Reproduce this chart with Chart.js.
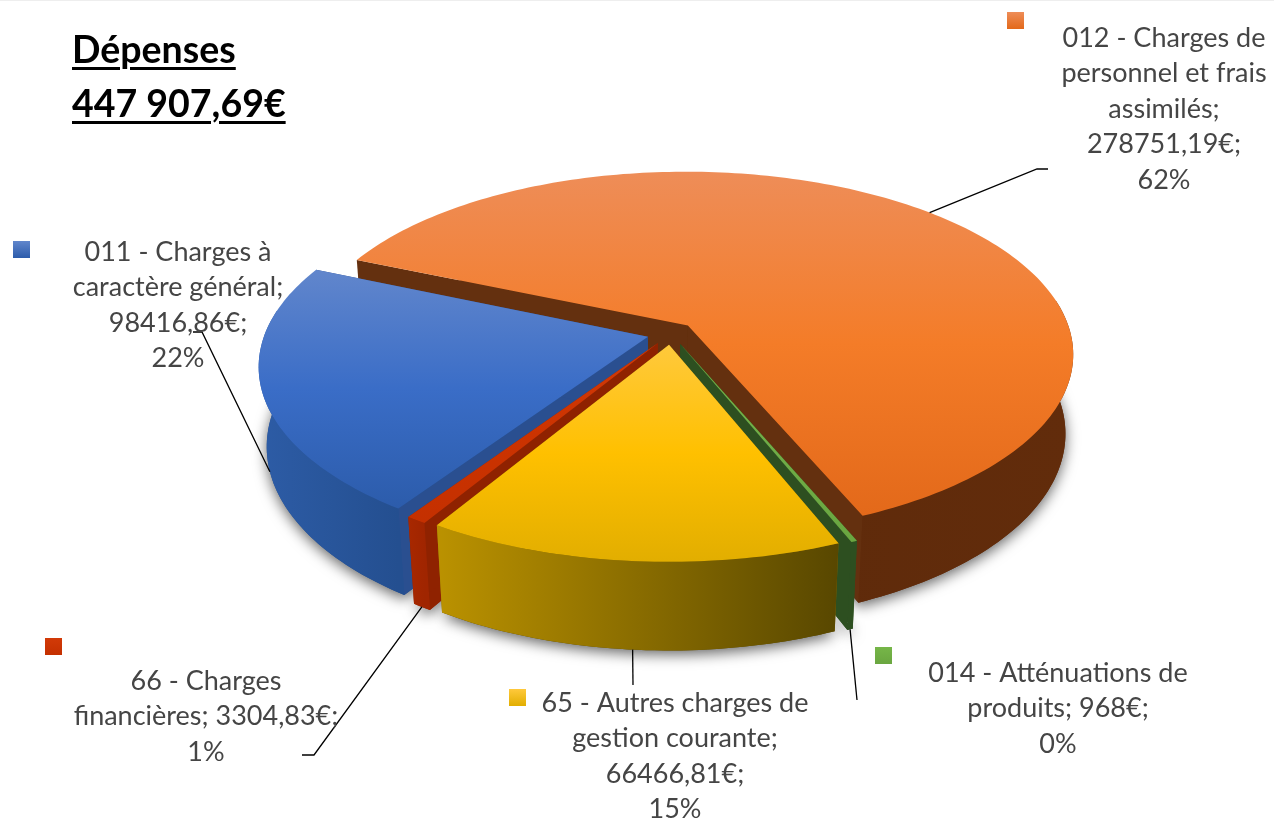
<!DOCTYPE html>
<html lang="fr">
<head>
<meta charset="utf-8">
<title>Dépenses</title>
<script src="https://cdn.jsdelivr.net/npm/chart.js@4"></script>
<style>
  html, body { margin: 0; padding: 0; background: #fff; }
  #wrap { position: relative; width: 1274px; height: 821px; overflow: hidden; }
  #topline { position: absolute; left: 0; top: 0; width: 100%; height: 1px; background: #eeeeee; }
  #title {
    position: absolute; left: 72px; top: 22px;
    font: bold 37.5px/54px Lato, sans-serif; color: #000;
    text-decoration: underline; text-decoration-thickness: 3px; text-underline-offset: 4px;
  }
  canvas { display: block; }
</style>
</head>
<body>
<div id="wrap">
  <canvas id="pie" width="1274" height="821"></canvas>
  <div id="topline"></div>
  <div id="title">Dépenses<br>447 907,69€</div>
</div>
<script>
// Data
const categories = [
  '011 - Charges à caractère général',
  '012 - Charges de personnel et frais assimilés',
  '014 - Atténuations de produits',
  '65 - Autres charges de gestion courante',
  '66 - Charges financières',
];
const amounts = [98416.86, 278751.19, 968, 66466.81, 3304.83];

// How each data label wraps in the picture
const labelLines = [
  ['011 - Charges à', 'caractère général;', '98416,86€;', '22%'],
  ['012 - Charges de', 'personnel et frais', 'assimilés;', '278751,19€;', '62%'],
  ['014 - Atténuations de', 'produits; 968€;', '0%'],
  ['65 - Autres charges de', 'gestion courante;', '66466,81€;', '15%'],
  ['66 - Charges', 'financières; 3304,83€;', '1%'],
];

// Slice styling: top face gradient, outer wall gradient, radial wall
const topColors = [
  ['#6186cc', '#3a6dc7', '#2c5cab'],
  ['#ee8d58', '#f47c28', '#e3691a'],
  ['#76b648', '#70ad47', '#6aa640'],
  ['#ffc93c', '#ffc000', '#e2ae00'],
  ['#d23a08', '#cc3300', '#c43000'],
];
const wallColors = [
  ['#2d5ca6', '#244f90'],
  ['#5a280a', '#622c0b'],
  ['#2d4f20', '#2d4f20'],
  ['#bb9200', '#584700'],
  ['#a82800', '#a02500'],
];
const radialColors = ['#2a4f90', '#64300f', '#2d4f20', '#8c6d00', '#8f2200'];
const drawOrder = [1, 2, 0, 4, 3];

// Camera used to lay the flat arcs down as a tilted disc
const TILT = 28 * Math.PI / 180;
const FOCAL = 2200;
const PIE_DEPTH = 91;
const PIE_RADIUS = 383;
const EXPLODE = 24;

// Label placement: text centre, first line centre, legend square, leader
const labelBoxes = [
  { cx: 178, y: 252, sq: [13, 241], anchor: 'base', via: [[202, 332], [193, 332]] },
  { cx: 1164, y: 38, sq: [1007, 12], anchor: 'top', via: [[1037, 169], [1048, 169]] },
  { cx: 1058, y: 673, sq: [875, 647], anchor: 'base', via: [[857, 700]] },
  { cx: 675, y: 703, sq: [509, 689], anchor: 'base', via: [[633, 685]] },
  { cx: 206, y: 681, sq: [45, 638], anchor: 'base', via: [[314, 755], [302, 755]] },
];
const LINE_HEIGHT = 35.5;
const SQUARE = 17;

function project(arc, angle, radius, z) {
  const mid = (arc.startAngle + arc.endAngle) / 2;
  const off = arc.options.offset || 0;
  const X = off * Math.cos(mid) + radius * Math.cos(angle);
  const Y = off * Math.sin(mid) + radius * Math.sin(angle);
  const depth = Y * Math.cos(TILT) - z * Math.sin(TILT);
  const s = FOCAL / (FOCAL - depth);
  return { x: arc.x + X * s, y: arc.y + (Y * Math.sin(TILT) + z * Math.cos(TILT)) * s };
}

function fillPoly(ctx, pts, fill) {
  ctx.beginPath();
  pts.forEach((p, i) => (i ? ctx.lineTo(p.x, p.y) : ctx.moveTo(p.x, p.y)));
  ctx.closePath();
  ctx.fillStyle = fill;
  ctx.fill();
}

function rimPoints(arc, z, frontOnly) {
  const steps = Math.max(2, Math.ceil((arc.endAngle - arc.startAngle) / 0.02));
  const pts = [];
  for (let i = 0; i <= steps; i++) {
    const a = arc.startAngle + (arc.endAngle - arc.startAngle) * i / steps;
    if (frontOnly && Math.sin(a) < -0.15) continue;
    pts.push(project(arc, a, arc.outerRadius, z));
  }
  return pts;
}

function drawWalls(ctx, arc, index) {
  const apexTop = project(arc, 0, 0, 0);
  const apexBase = project(arc, 0, 0, PIE_DEPTH);
  const top = rimPoints(arc, 0);
  const base = rimPoints(arc, PIE_DEPTH);
  const last = top.length - 1;

  fillPoly(ctx, [apexTop, top[0], base[0], apexBase], radialColors[index]);
  fillPoly(ctx, [apexTop, top[last], base[last], apexBase], radialColors[index]);

  // Only the part of the outer wall that faces the viewer
  const xs = top.map(p => p.x);
  const grad = ctx.createLinearGradient(Math.min(...xs), 0, Math.max(...xs), 0);
  grad.addColorStop(0, wallColors[index][0]);
  grad.addColorStop(1, wallColors[index][1]);
  const frontTop = rimPoints(arc, 0, true);
  const frontBase = rimPoints(arc, PIE_DEPTH, true);
  fillPoly(ctx, frontTop.concat(frontBase.reverse()), grad);
}

function drawTop(ctx, arc, index) {
  const pts = [project(arc, 0, 0, 0)].concat(rimPoints(arc, 0));
  const ys = pts.map(p => p.y);
  const grad = ctx.createLinearGradient(0, Math.min(...ys), 0, Math.max(...ys));
  grad.addColorStop(0, topColors[index][0]);
  grad.addColorStop(0.5, topColors[index][1]);
  grad.addColorStop(1, topColors[index][2]);
  fillPoly(ctx, pts, grad);
}

// Chart.js has no 3D pie, so the arcs it lays out get redrawn as a tilted disc
const tiltedPie = {
  id: 'tiltedPie',
  beforeDatasetDraw(chart, args) {
    const ctx = chart.ctx;
    const arcs = args.meta.data;

    // Soft shadow cast by the underside only
    ctx.save();
    ctx.shadowColor = 'rgba(0,0,0,0.6)';
    ctx.shadowBlur = 14;
    ctx.shadowOffsetY = 4;
    drawOrder.forEach(i => {
      const under = [project(arcs[i], 0, 0, PIE_DEPTH)].concat(rimPoints(arcs[i], PIE_DEPTH));
      fillPoly(ctx, under, wallColors[i][1]);
    });
    ctx.restore();

    drawOrder.forEach(i => {
      drawWalls(ctx, arcs[i], i);
      drawTop(ctx, arcs[i], i);
    });
    return false;
  },
  afterDatasetsDraw(chart) {
    const ctx = chart.ctx;
    const arcs = chart.getDatasetMeta(0).data;

    ctx.save();
    ctx.strokeStyle = '#000';
    ctx.lineWidth = 1.3;
    labelBoxes.forEach((box, i) => {
      const arc = arcs[i];
      const mid = (arc.startAngle + arc.endAngle) / 2;
      const start = project(arc, mid, arc.outerRadius, box.anchor === 'top' ? 0 : PIE_DEPTH);
      ctx.beginPath();
      ctx.moveTo(start.x, start.y);
      box.via.forEach(p => ctx.lineTo(p[0], p[1]));
      ctx.stroke();
    });

    ctx.font = '27px Lato, sans-serif';
    ctx.fillStyle = '#454545';
    ctx.textAlign = 'center';
    ctx.textBaseline = 'middle';
    labelBoxes.forEach((box, i) => {
      labelLines[i].forEach((line, n) => {
        ctx.fillText(line, box.cx, box.y + n * LINE_HEIGHT);
      });
      const grad = ctx.createLinearGradient(0, box.sq[1], 0, box.sq[1] + SQUARE);
      grad.addColorStop(0, topColors[i][0]);
      grad.addColorStop(1, topColors[i][2]);
      ctx.fillStyle = grad;
      ctx.fillRect(box.sq[0], box.sq[1], SQUARE, SQUARE);
      ctx.fillStyle = '#454545';
    });
    ctx.restore();
  },
};

new Chart(document.getElementById('pie'), {
  type: 'pie',
  data: {
    labels: categories,
    datasets: [{
      data: amounts,
      backgroundColor: topColors.map(c => c[1]),
      borderWidth: 0,
      offset: EXPLODE,
    }],
  },
  options: {
    responsive: false,
    animation: false,
    rotation: 214,
    radius: PIE_RADIUS,
    layout: { padding: { left: 68, bottom: 154 } },
    plugins: { legend: { display: false }, tooltip: { enabled: false } },
  },
  plugins: [tiltedPie],
});
</script>
</body>
</html>
